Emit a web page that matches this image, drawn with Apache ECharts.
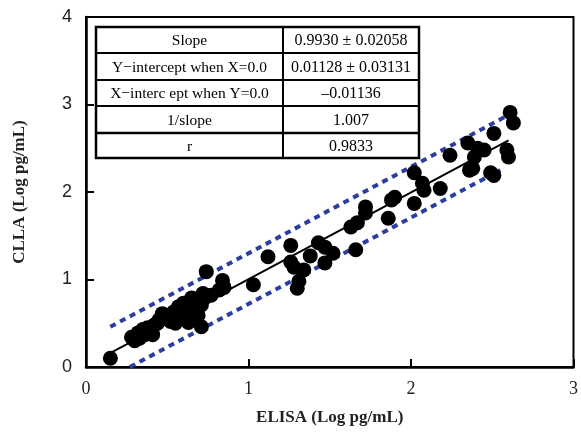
<!DOCTYPE html>
<html>
<head>
<meta charset="utf-8">
<script src="https://cdn.jsdelivr.net/npm/echarts@6/dist/echarts.min.js"></script>
<style>
    html, body { margin: 0; padding: 0; background: #fff; }
    #chart { width: 581px; height: 436px; }
</style>
</head>
<body>
<div id="chart"></div>
<script>
    // 散点数据 (ELISA, CLLA)
    var points = [
        [0.15, 0.10], [0.28, 0.34], [0.32, 0.39], [0.36, 0.37], [0.39, 0.42],
        [0.42, 0.48], [0.45, 0.54], [0.48, 0.56], [0.51, 0.59], [0.54, 0.63],
        [0.56, 0.56], [0.59, 0.65], [0.61, 0.56], [0.64, 0.70], [0.67, 0.73],
        [0.68, 0.65], [0.70, 0.77], [0.71, 0.71], [0.73, 0.79], [0.71, 0.46],
        [0.74, 1.09], [0.77, 0.82], [0.84, 0.99], [0.82, 0.88], [0.85, 0.91],
        [0.33, 0.33], [0.44, 0.50], [0.58, 0.60], [0.62, 0.66], [0.66, 0.62],
        [0.30, 0.30], [0.38, 0.45], [0.47, 0.61], [0.52, 0.52], [0.57, 0.69],
        [0.60, 0.73], [0.65, 0.79], [0.69, 0.59], [0.72, 0.84], [0.41, 0.37],
        [0.35, 0.43], [0.55, 0.50], [0.63, 0.51],
        [1.03, 0.94], [1.12, 1.26], [1.26, 1.39], [1.26, 1.20], [1.28, 1.14],
        [1.34, 1.11], [1.30, 0.90], [1.43, 1.42], [1.47, 1.37], [1.52, 1.30],
        [1.47, 1.19], [1.66, 1.34], [1.63, 1.60], [1.67, 1.65], [1.72, 1.83],
        [1.72, 1.76], [1.86, 1.70], [1.88, 1.91], [1.90, 1.94], [2.02, 1.87],
        [2.02, 2.22], [2.07, 2.10], [2.08, 2.02], [2.18, 2.04], [2.36, 2.25],
        [2.49, 2.22], [2.61, 2.91], [2.63, 2.79], [2.59, 2.48], [2.60, 2.40],
        [2.51, 2.67], [2.51, 2.19], [2.45, 2.48], [2.41, 2.50], [2.35, 2.56],
        [2.39, 2.40], [2.24, 2.42], [2.38, 2.27], [1.31, 0.98], [1.38, 1.27]
    ];
    // 回归线与置信带端点
    var fitLine = [[0.16, 0.17], [2.60, 2.59]];
    var upperBand = [[0.15, 0.46], [2.58, 2.86]];
    var lowerBand = [[0.27, 0.00], [2.55, 2.25]];

    var xTicks = [0, 1, 2, 3];
    var yTicks = [0, 1, 2, 3, 4];

    // 表格内容
    var tableLabels = ['Slope', 'Y\u2212intercept when X=0.0', 'X\u2212interc ept when Y=0.0', '1/slope', 'r'];
    var tableValues = ['0.9930 \u00b1 0.02058', '0.01128 \u00b1 0.03131', '\u20130.01136', '1.007', '0.9833'];

    var serif = '"Liberation Serif", "DejaVu Serif", serif';
    var tblLeft = 96, tblRight = 419, tblMid = 283;
    var rowY = [27, 53, 80, 106, 133, 158];

    var graphics = [{
        type: 'rect',
        shape: { x: tblLeft, y: rowY[0], width: tblRight - tblLeft, height: rowY[5] - rowY[0] },
        style: { fill: '#fff', stroke: '#000', lineWidth: 2.5 },
        z: 100
    }, {
        type: 'line',
        shape: { x1: tblMid, y1: rowY[0], x2: tblMid, y2: rowY[5] },
        style: { stroke: '#000', lineWidth: 2 },
        z: 101
    }];
    for (var i = 1; i < 5; i++) {
        graphics.push({
            type: 'line',
            shape: { x1: tblLeft, y1: rowY[i], x2: tblRight, y2: rowY[i] },
            style: { stroke: '#000', lineWidth: i === 4 ? 2.5 : 2 },
            z: 101
        });
    }
    for (var j = 0; j < 5; j++) {
        var cy = (rowY[j] + rowY[j + 1]) / 2 + 1;
        graphics.push({
            type: 'text', z: 102,
            style: { text: tableLabels[j], x: (tblLeft + tblMid) / 2, y: cy, align: 'center', verticalAlign: 'middle',
                font: '15.5px ' + serif, fill: '#000' }
        });
        graphics.push({
            type: 'text', z: 102,
            style: { text: tableValues[j], x: (tblMid + tblRight) / 2, y: cy, align: 'center', verticalAlign: 'middle',
                font: '16px ' + serif, fill: '#000' }
        });
    }

    var myChart = echarts.init(document.getElementById('chart'));
    var option = {
        backgroundColor: '#fff',
        animation: false,
        grid: { left: 86, right: 4, top: 17, bottom: 69, show: true, borderColor: '#000', borderWidth: 2 },
        xAxis: {
            type: 'value', min: xTicks[0], max: xTicks[xTicks.length - 1], interval: 1,
            name: 'ELISA (Log pg/mL)', nameLocation: 'middle', nameGap: 42,
            nameTextStyle: { fontFamily: serif, fontSize: 17, color: '#222', fontWeight: 'bold' },
            axisLine: { lineStyle: { color: '#000', width: 2.5 } },
            axisTick: { inside: true, length: 8, lineStyle: { color: '#000', width: 2 } },
            axisLabel: { fontFamily: serif, fontSize: 18, color: '#222', margin: 13 },
            splitLine: { show: false }
        },
        yAxis: {
            type: 'value', min: yTicks[0], max: yTicks[yTicks.length - 1], interval: 1,
            name: 'CLLA (Log pg/mL)', nameLocation: 'middle', nameGap: 58,
            nameTextStyle: { fontFamily: serif, fontSize: 17, color: '#222', fontWeight: 'bold' },
            axisLine: { lineStyle: { color: '#000', width: 2.5 } },
            axisTick: { inside: true, length: 8, lineStyle: { color: '#000', width: 2 } },
            axisLabel: { fontFamily: '"Liberation Sans", Arial, sans-serif', fontSize: 18, color: '#222', margin: 14 },
            splitLine: { show: false }
        },
        series: [{
            type: 'line', data: upperBand, symbol: 'none', z: 3,
            lineStyle: { color: '#2b3d9e', width: 4, type: [6, 5] }
        }, {
            type: 'line', data: lowerBand, symbol: 'none', z: 3,
            lineStyle: { color: '#2b3d9e', width: 4, type: [6, 5] }
        }, {
            type: 'line', data: fitLine, symbol: 'none', z: 4,
            lineStyle: { color: '#000', width: 2 }
        }, {
            type: 'scatter', data: points, symbol: 'circle', symbolSize: 15, z: 5,
            itemStyle: { color: '#000', opacity: 1 }
        }],
        graphic: graphics
    };
    myChart.setOption(option);
</script>
</body>
</html>
